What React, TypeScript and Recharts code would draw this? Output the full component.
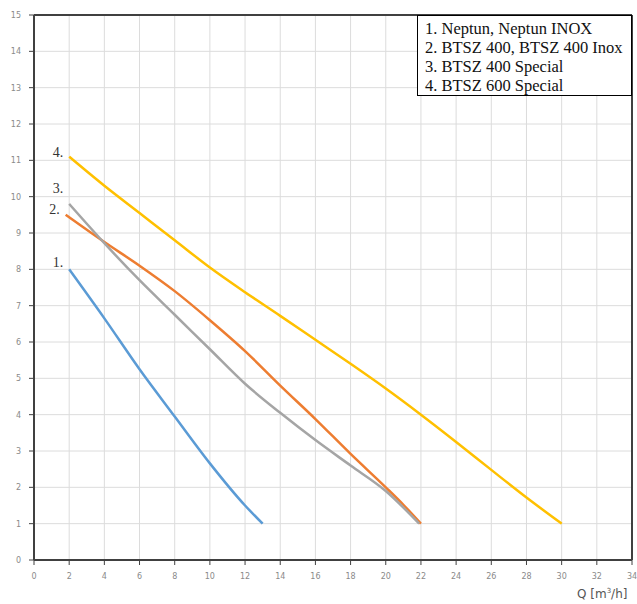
import React from "react";
import { LineChart, Line, XAxis, YAxis, CartesianGrid, ReferenceLine } from "recharts";

const xTicks = [0, 2, 4, 6, 8, 10, 12, 14, 16, 18, 20, 22, 24, 26, 28, 30, 32, 34];
const yTicks = [0, 1, 2, 3, 4, 5, 6, 7, 8, 9, 10, 11, 12, 13, 14, 15];

const seriesNames = [
  "1. Neptun, Neptun INOX",
  "2. BTSZ 400, BTSZ 400 Inox",
  "3. BTSZ 400 Special",
  "4. BTSZ 600 Special",
];
const seriesTags = ["1.", "2.", "3.", "4."];
const seriesColors = ["#5B9BD5", "#ED7D31", "#A5A5A5", "#FFC000"];
const tagOffsets = [-2, -1, -11, 0];

const qNeptun = [2, 4, 6, 8, 10, 12, 13];
const hNeptun = [8.0, 6.65, 5.25, 3.95, 2.66, 1.5, 1.0];

const qBtsz400 = [1.8, 4, 6, 8, 10, 12, 14, 16, 18, 20, 21, 22];
const hBtsz400 = [9.5, 8.75, 8.1, 7.4, 6.6, 5.75, 4.8, 3.88, 2.92, 2.0, 1.52, 1.0];

const qBtsz400s = [2, 4, 6, 8, 10, 12, 14, 16, 18, 20, 21.9];
const hBtsz400s = [9.8, 8.72, 7.7, 6.75, 5.8, 4.85, 4.05, 3.3, 2.6, 1.9, 1.0];

const qBtsz600s = [2, 4, 6, 8, 10, 12, 14, 16, 18, 20, 22, 24, 26, 28, 30];
const hBtsz600s = [11.1, 10.3, 9.55, 8.8, 8.05, 7.37, 6.72, 6.06, 5.4, 4.72, 4.0, 3.25, 2.48, 1.72, 1.0];

const toRows = (q: number[], h: number[]) => q.map((x, i) => ({ x, y: h[i] }));
const seriesData = [
  toRows(qNeptun, hNeptun),
  toRows(qBtsz400, hBtsz400),
  toRows(qBtsz400s, hBtsz400s),
  toRows(qBtsz600s, hBtsz600s),
];

const tickStyle = { fontSize: 8, fill: "#8a8a8a", fontFamily: "DejaVu Sans, sans-serif" };

export default function App() {
  return (
    <div style={{ position: "absolute", left: 0, top: 0, width: 637, height: 604, background: "#fff" }}>
      <LineChart width={637} height={604} margin={{ top: 15, right: 5, left: 0, bottom: 14 }}>
        <CartesianGrid stroke="#dcdcdc" strokeWidth={1} />
        <XAxis
          type="number"
          dataKey="x"
          domain={[0, 34]}
          ticks={xTicks}
          interval={0}
          height={30}
          tick={tickStyle}
          tickSize={5}
          tickMargin={8}
          axisLine={{ stroke: "#404040", strokeWidth: 2 }}
          tickLine={{ stroke: "#404040", strokeWidth: 1 }}
        />
        <YAxis
          type="number"
          domain={[0, 15]}
          ticks={yTicks}
          interval={0}
          width={34}
          tick={tickStyle}
          tickSize={5}
          tickMargin={8}
          axisLine={{ stroke: "#404040", strokeWidth: 2 }}
          tickLine={{ stroke: "#404040", strokeWidth: 1 }}
        />
        <ReferenceLine y={15} stroke="#404040" strokeWidth={2} />
        <ReferenceLine x={34} stroke="#404040" strokeWidth={2} />
        {seriesData.map((d, si) => (
          <Line
            key={seriesNames[si]}
            data={d}
            dataKey="y"
            name={seriesNames[si]}
            type="monotone"
            stroke={seriesColors[si]}
            strokeWidth={2.5}
            dot={false}
            isAnimationActive={false}
            label={(p: any) =>
              p.index === 0 ? (
                <text
                  key={"lbl" + si}
                  x={p.x - 6}
                  y={p.y + tagOffsets[si]}
                  textAnchor="end"
                  fontSize={14}
                  fill="#333"
                  fontFamily="Liberation Serif, serif"
                >
                  {seriesTags[si]}
                </text>
              ) : (
                <g key={"lbl" + si + "-" + p.index} />
              )
            }
          />
        ))}
      </LineChart>
      <div
        style={{
          position: "absolute",
          left: 577,
          top: 587,
          fontSize: 12,
          color: "#555",
          fontFamily: "DejaVu Sans, sans-serif",
          whiteSpace: "nowrap",
        }}
      >
        Q [m<sup style={{ fontSize: 7 }}>3</sup>/h]
      </div>
      <div
        style={{
          position: "absolute",
          left: 417,
          top: 15,
          width: 215,
          height: 81,
          boxSizing: "border-box",
          border: "1.5px solid #000",
          background: "#fff",
          paddingLeft: 7,
          paddingTop: 3,
          fontFamily: "Liberation Serif, serif",
          fontSize: 16.5,
          lineHeight: "19px",
          color: "#111",
        }}
      >
        {seriesNames.map((n) => (
          <div key={n} style={{ whiteSpace: "nowrap" }}>
            {n}
          </div>
        ))}
      </div>
    </div>
  );
}
